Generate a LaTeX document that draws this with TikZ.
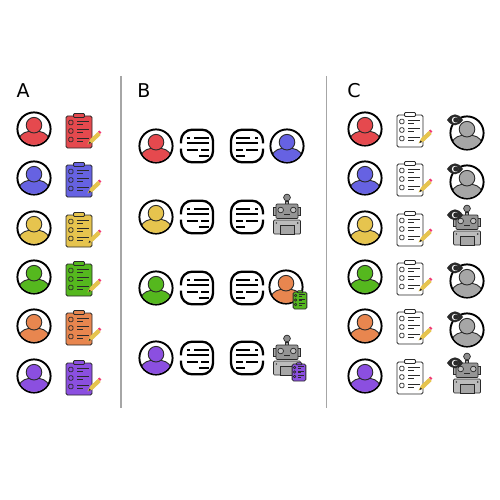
\documentclass[tikz,border=0pt]{standalone}
\usepackage{fontspec}
\setmainfont{DejaVu Sans}
\definecolor{cRed}{HTML}{E5494E}
\definecolor{cBlue}{HTML}{6662E2}
\definecolor{cYellow}{HTML}{E6C44E}
\definecolor{cGreen}{HTML}{55B81E}
\definecolor{cOrange}{HTML}{E8864F}
\definecolor{cPurple}{HTML}{8B4FE0}
\definecolor{cGrey}{HTML}{A6A6A6}
\definecolor{cInk}{HTML}{2A2A2A}
\tikzset{
  letter/.style={font=\fontsize{19}{19}\selectfont,inner sep=0pt},
  divider/.style={draw=black!35,line width=1.2pt},
  pics/person/.style={code={
    \draw[fill=white,line width=1.9pt] (0,0) circle (16.6);
    \begin{scope}
      \clip (0,0) circle (15.8);
      \draw[cInk,fill=#1,line width=.9pt] (-14.5,17) -- (-14.5,10) .. controls (-14.5,4.5) and (-7,1.8) .. (0,1.8)
        .. controls (7,1.8) and (14.5,4.5) .. (14.5,10) -- (14.5,17) -- cycle;
    \end{scope}
    \draw[cInk,fill=#1,line width=.9pt] (0,-3.8) circle (7.8);
  }},
  pics/clipboard/.style={code={
    \draw[cInk,fill=#1,line width=.8pt,rounded corners=1.5] (-13,-15) rectangle (13,17);
    \draw[cInk,fill=#1,line width=.8pt,rounded corners=1] (-5.5,-17.5) rectangle (5.5,-13.5);
    \foreach \yrow in {-8.5,0,8.5} {
      \draw[cInk,line width=.7pt,rounded corners=1] (-10.2,\yrow-2.2) rectangle (-6,\yrow+2.2);
      \draw[cInk,line width=.7pt] (-2,\yrow-1.6) -- (9.5,\yrow-1.6);
      \draw[cInk,line width=.7pt] (-2,\yrow+1.4) -- (3.5,\yrow+1.4);
    }
  }},
  pics/pencil/.style={code={
    \draw[fill=cYellow,draw=cYellow,line width=1pt] (9.5,12.5) -- (12,8) -- (19,1.5) -- (21,4) -- (13.5,11) -- cycle;
    \fill[cInk] (9.5,13) -- (10.5,10.5) -- (12,12) -- cycle;
    \fill[magenta!55!red!80] (19,0.5) -- (20.5,-0.5) -- (22.3,1.5) -- (21,3) -- cycle;
  }},
  pics/notes/.style={code={
    \draw[line width=2.3pt,rounded corners=11] (-16,-2.6) -- (-16,-16.3) -- (16,-16.3) -- (16,16.3) -- (-16,16.3) -- (-16,2.6);
    \draw[line width=2pt] (-10.5,-8.5) -- (-7.5,-8.5) (-3,-8.5) -- (11.5,-8.5)
      (-10.5,-3) -- (11.5,-3) (-10.5,3.5) -- (1,3.5) (4,3.5) -- (11.5,3.5) (2,9.5) -- (11.5,9.5);
  }},
  pics/robot/.style={code={
    \draw[cInk,fill=cGrey!85!black,line width=.7pt] (0,-19.5) circle (3.4);
    \draw[cInk,fill=cGrey,line width=.7pt] (-1.2,-16) rectangle (1.2,-12.8);
    \draw[cInk,fill=cGrey,line width=.7pt] (-13.5,-9.5) rectangle (13.5,-2);
    \draw[cInk,fill=cGrey!90!black,line width=.7pt,rounded corners=1] (-11,-13) rectangle (11,1.5);
    \draw[cInk,fill=cGrey!70,line width=.7pt] (-6.3,-7) circle (2.8);
    \draw[cInk,fill=cGrey!70,line width=.7pt] (6.3,-7) circle (2.8);
    \draw[cInk,line width=.8pt] (-2.8,-3) -- (2.8,-3);
    \draw[cInk,fill=cGrey!75,line width=.7pt,rounded corners=1] (-13.5,3) rectangle (13.5,17);
    \draw[cInk,fill=cGrey,line width=.7pt] (-7,8.5) rectangle (7,17);
    \fill[cInk] (-10.7,6) circle (.8) (10.7,6) circle (.8);
  }},
  pics/eye/.style={code={
    \fill[cInk] (-8,0) .. controls (-3,-7.5) and (3,-7.5) .. (8,0) .. controls (3,7) and (-3,7) .. (-8,0) -- cycle;
    \fill[white] (0,0) circle (3.2);
    \fill[cInk] (.8,0) circle (2.6);
  }}
}
\begin{document}
\begin{tikzpicture}[x=1pt,y=-1pt]
\useasboundingbox (0,0) rectangle (500,500);
\node[letter] (labelA) at (23,91) {A};
\node[letter] (labelB) at (144,91) {B};
\node[letter] (labelC) at (354,91) {C};
\draw[divider] (121,76) -- (121,408);
\draw[divider,line width=.9pt] (326,76) -- (326,408);
% panel A
\foreach \yrow/\col in {129/cRed,178/cBlue,228/cYellow,277/cGreen,326/cOrange,376/cPurple} {
  \pic at (34,\yrow) {person=\col};
  \pic at (79,\yrow+2) {clipboard=\col};
  \pic at (79,\yrow+2) {pencil};
}
% panel B
\foreach \yrow/\col in {146/cRed,217/cYellow,288/cGreen,358/cPurple} {
  \pic at (156,\yrow) {person=\col};
  \pic at (197,\yrow) {notes};
  \pic[xscale=-1] at (247,\yrow) {notes};
}
\pic at (287,146) {person=cBlue};
\pic at (287,217) {robot};
\pic at (286,287) {person=cOrange};
\pic[scale=.53] at (300,300) {clipboard=cGreen};
\pic at (287,358) {robot};
\pic[scale=.53] at (299,372) {clipboard=cPurple};
% panel C
\foreach \yrow/\col in {129/cRed,178/cBlue,228/cYellow,277/cGreen,326/cOrange,376/cPurple} {
  \pic at (365,\yrow) {person=\col};
  \pic at (410,\yrow+1) {clipboard=white};
  \pic at (410,\yrow+1) {pencil};
}
\foreach \yrow in {133,182,281,330} {
  \pic at (467,\yrow) {person=cGrey};
  \pic at (455,\yrow-13) {eye};
}
\foreach \yrow in {228,376} {
  \pic at (467,\yrow) {robot};
  \pic at (455,\yrow-13) {eye};
}
\end{tikzpicture}
\end{document}
